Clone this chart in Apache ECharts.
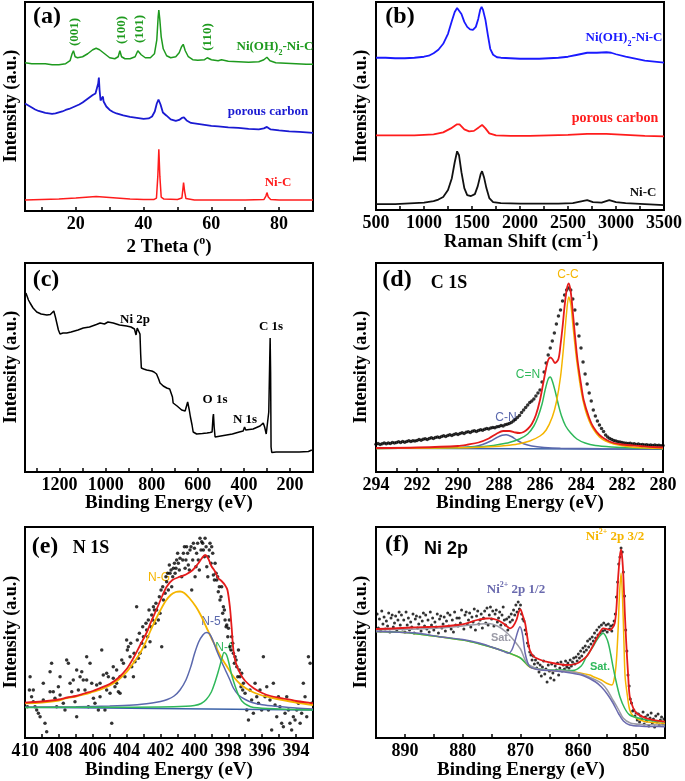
<!DOCTYPE html>
<html><head><meta charset="utf-8">
<script src="https://cdn.jsdelivr.net/npm/echarts@6/dist/echarts.min.js"></script>
<style>html,body{margin:0;padding:0;background:#fff}#c{width:685px;height:781px}</style>
</head><body><div id="c"></div>
<script>
// ---------- (a) XRD, 2-theta (deg) vs intensity (a.u.) ----------
const xrdNiOH = [[5,149],[7,148],[9,148],[11,148],[13,147],[15,147],[17,148],[18.3,151],[18.9,158],[19.3,161],[19.8,155],[20.5,154],[22,155],[23.5,158],[25,162],[26,163.5],[27,162],[28.5,158],[30,154],[31.5,153],[32.5,155],[33.0,161],[33.5,155],[34.5,153],[36,153],[37.5,155],[38.3,161],[38.7,163],[39.3,157],[40.5,154],[42,154],[43.2,158],[43.9,172],[44.3,195],[44.5,202],[44.8,192],[45.2,175],[45.8,163],[46.8,156],[48,154],[49.5,155],[50.5,159],[51.2,165],[51.7,167.5],[52.3,161],[53.2,155],[54.5,152],[56,151.5],[58,152],[58.8,154],[59.3,154.5],[60,152],[62,151],[63,152],[65,150.5],[68,150],[71,149.5],[74,150],[75.5,152],[76.4,154.5],[77.3,151],[79,149],[82,148.5],[85,148],[88,147.5],[90,147.5]];
const xrdCarbon = [[5,108],[6,106],[7,104],[8,102],[9,100.5],[10,99.5],[11,98.5],[12,98],[13,97.5],[14,98],[15,99],[16,100],[17,101.5],[18,102.5],[19,104],[20,105.5],[21,107],[22,109],[23,111.5],[24,114],[25,116.5],[25.8,118],[26.3,119],[26.6,128],[26.8,134],[27.0,122],[27.3,111],[27.7,109],[28.0,115],[28.2,110],[29,105],[30,101.5],[31,99.5],[32,98],[34,96],[36,94.5],[38,93.5],[40,92.5],[41.5,93],[42.5,95],[43.3,100],[43.9,108],[44.4,112],[45,107],[45.7,99],[46.7,96],[48,92],[49.5,90.5],[50.5,91.5],[51.3,93.5],[51.9,94],[52.7,91],[54,88.5],[56,87.5],[58,86.5],[60,85.5],[62,85],[65,84],[68,83.5],[71,82.5],[74,82],[75.5,83],[76.4,84.5],[77.5,82],[80,81],[83,80],[86,79.5],[88,79],[90,78.5]];
const xrdNiC = [[5,11],[10,11.5],[15,12],[20,13],[24,14],[26,14.5],[28,14],[32,13],[36,12],[40,11.5],[43,11.5],[43.8,13],[44.2,35],[44.5,62],[44.8,35],[45.2,14],[46,12],[50,11.5],[51.3,13],[51.6,22],[51.8,28.5],[52.1,20],[52.5,12.5],[55,11],[60,11],[65,11],[70,11],[75.5,11.5],[76.1,15],[76.4,18.5],[76.8,14],[77.5,11.5],[80,11],[85,11],[90,11]];

// ---------- (b) Raman ----------
const ramanNiOH = [[500,153],[600,153],[700,152.5],[800,152.5],[900,153],[1000,154],[1050,155],[1100,157.5],[1150,161],[1200,167],[1250,177],[1290,190],[1320,199],[1345,203],[1365,203],[1390,197],[1420,189],[1450,184],[1480,181.5],[1510,181],[1540,184],[1565,192],[1585,201],[1600,204],[1615,201],[1640,191],[1665,176],[1690,162],[1720,156],[1760,153.5],[1800,153],[1900,152.5],[2000,152],[2100,152],[2200,152],[2300,152.5],[2400,153],[2500,154],[2600,156],[2700,158],[2800,158],[2900,158.5],[2950,158],[3000,156.5],[3100,154],[3200,152],[3300,150],[3400,149],[3500,148]];
const ramanCarbon = [[500,75],[700,75],[900,75],[1000,75.5],[1100,76],[1200,78],[1280,82],[1340,86],[1370,86],[1420,81],[1470,79],[1520,79.5],[1570,83],[1605,85.5],[1640,82],[1680,77],[1750,75],[1900,74.5],[2100,74.5],[2300,75],[2500,75.5],[2700,76.5],[2900,76.5],[3100,75.5],[3300,74.5],[3500,74]];
const ramanNiC = [[500,6],[600,6],[700,6],[800,6.5],[900,7],[1000,7.5],[1100,9],[1150,10.5],[1200,13],[1250,20],[1290,32],[1320,48],[1345,59],[1365,55],[1390,38],[1420,22],[1450,15],[1490,14],[1530,16],[1560,24],[1590,36],[1605,39],[1625,33],[1650,22],[1680,12],[1720,8],[1800,7],[2000,6.5],[2200,6.5],[2400,6.5],[2550,7],[2650,9],[2700,10],[2760,8],[2850,7.5],[2930,10],[3000,8],[3100,7],[3300,6],[3500,5]];

// ---------- (c) XPS survey ----------
const survey = [[1346,179],[1335,172],[1328,169],[1315,164],[1299,160],[1280,158],[1255,157],[1240,157.5],[1233,159],[1225,161],[1218,155],[1212,149],[1205,142],[1198,138],[1185,139],[1169,139],[1150,140],[1120,142],[1097,144],[1070,145],[1040,147.5],[1024,149],[1005,148],[990,150],[967,149],[940,147],[909,146],[890,145],[875,143],[868,137],[863,144],[858,145],[855,145],[851,138],[848,118],[845,104],[835,103],[822,102],[800,101],[790,100],[779,98],[770,93],[764,89],[750,86],[735,84],[722,83],[714,82],[710,75],[707,69],[690,66],[670,62],[655,61],[649,60],[644,70],[641,72],[637,62],[632,55],[625,47],[620,40],[605,38],[580,38.5],[560,39],[547,39.5],[538,40],[534,55],[532,58],[529,45],[525,35],[500,36],[475,37],[450,38],[420,40],[403,41],[397,45],[392,42],[388,41],[360,43],[330,46],[316,49],[310,45],[303,38],[300,37],[292,60],[288,110],[286,134],[284,100],[282,25],[279,19.5],[260,20],[228,20],[200,20],[160,20],[120,20.5],[105,22]];

// ---------- (d) C 1s ----------
const c1sData = [[294.0,27.7],[293.9,28.5],[293.8,27.5],[293.7,28.3],[293.6,28.9],[293.5,28.2],[293.4,29.0],[293.3,28.6],[293.2,29.6],[293.1,29.0],[293.0,29.4],[292.9,30.2],[292.8,29.5],[292.7,30.4],[292.6,29.8],[292.5,30.6],[292.4,31.2],[292.3,30.5],[292.2,31.3],[292.1,30.9],[292.0,31.6],[291.9,32.4],[291.8,31.8],[291.7,32.7],[291.6,33.3],[291.5,32.6],[291.4,33.5],[291.3,34.2],[291.2,33.6],[291.1,34.6],[291.0,35.0],[290.9,34.4],[290.8,35.5],[290.7,36.2],[290.6,35.6],[290.5,36.6],[290.4,37.2],[290.3,36.5],[290.2,37.6],[290.1,38.2],[290.0,37.5],[289.9,38.6],[289.8,39.3],[289.7,38.6],[289.6,39.7],[289.5,40.3],[289.4,39.6],[289.3,40.8],[289.2,41.2],[289.1,40.5],[289.0,41.6],[288.9,42.3],[288.8,41.7],[288.7,42.8],[288.6,43.5],[288.5,42.9],[288.4,44.0],[288.3,44.6],[288.2,44.2],[288.1,45.3],[288.0,45.6],[287.9,46.4],[287.8,46.0],[287.7,47.2],[287.6,47.8],[287.5,48.5],[287.4,49.5],[287.3,51.0],[287.2,52.6],[287.1,54.5],[287.0,56.5],[286.9,59.5],[286.8,62.0],[286.7,64.5],[286.6,67.0],[286.5,69.5],[286.4,71.0],[286.3,73.0],[286.2,76.0],[286.1,79.0],[286.0,82.0],[285.9,90.0],[285.8,100.0],[285.7,109.0],[285.6,117.0],[285.5,124.0],[285.4,131.0],[285.3,139.0],[285.2,148.0],[285.1,156.0],[285.0,162.0],[284.9,171.0],[284.8,177.0],[284.7,182.0],[284.6,184.0],[284.5,182.0],[284.4,173.0],[284.3,162.0],[284.2,148.0],[284.1,136.0],[284.0,124.0],[283.9,110.0],[283.8,98.0],[283.7,88.0],[283.6,79.0],[283.5,71.0],[283.4,62.0],[283.3,56.0],[283.2,51.0],[283.1,47.0],[283.0,43.5],[282.9,40.5],[282.8,37.0],[282.7,35.0],[282.6,33.5],[282.5,32.6],[282.4,31.5],[282.3,31.0],[282.2,30.2],[282.1,29.9],[282.0,29.4],[281.9,29.0],[281.8,28.8],[281.7,28.4],[281.6,28.7],[281.5,28.1],[281.4,28.3],[281.3,27.6],[281.2,27.9],[281.1,27.2],[281.0,27.5],[280.9,27.0],[280.8,27.3],[280.7,26.8],[280.6,27.1],[280.5,26.6],[280.4,26.9],[280.3,26.4],[280.2,26.7],[280.1,26.3],[280.0,26.5]];
const c1sCC = [[294,23.5],[292,23.8],[290,24.2],[289,24.8],[288,25.8],[287.5,26.8],[287,28.3],[286.5,31],[286,36],[285.7,42],[285.4,55],[285.2,70],[285.0,95],[284.85,125],[284.7,160],[284.6,175],[284.5,168],[284.4,148],[284.3,128],[284.2,110],[284.0,82],[283.8,63],[283.6,51],[283.4,43],[283.1,35],[282.8,31],[282.4,28],[282,26.3],[281.5,25],[281,24.3],[280.5,23.8],[280,23.5]];
const c1sCeqN = [[294,23.5],[292,23.8],[290,24.3],[289,25.2],[288.5,26],[288,27.5],[287.5,29.5],[287,33],[286.6,38],[286.3,46],[286.1,55],[285.9,68],[285.75,82],[285.6,93],[285.5,95],[285.4,91],[285.25,80],[285.1,67],[284.95,56],[284.75,46],[284.5,39],[284.2,33],[283.8,29],[283.3,26.5],[282.5,25],[281.5,24],[280,23.3]];
const c1sCN = [[294,23.6],[292,23.7],[290,24.2],[289.2,25.5],[288.8,27.5],[288.4,31],[288.1,34.5],[287.85,36.8],[287.65,37.2],[287.4,35.5],[287.1,31.5],[286.8,28.3],[286.4,26],[285.8,24.6],[285,23.8],[283,23.2],[280,22.9]];
const c1sFit = [[294,24],[292,24.5],[290,26],[289.5,27.5],[289,29.5],[288.5,33.5],[288.1,38.5],[287.8,41],[287.5,41],[287.2,39.5],[287.0,39],[286.8,40],[286.6,43],[286.4,48],[286.2,57],[286.0,72],[285.85,88],[285.7,104],[285.6,112],[285.5,114.5],[285.4,113],[285.27,109],[285.1,113],[285.0,127],[284.9,145],[284.8,166],[284.7,182],[284.6,188.5],[284.5,180],[284.4,160],[284.3,138],[284.17,112],[284.0,88],[283.87,72],[283.6,54],[283.4,45],[283.1,37],[282.75,32],[282.4,29],[282,27.5],[281.1,26],[280.5,25],[280,24.5]];
const c1sBase = [[294,23.7],[280,22.7]];

// ---------- (e) N 1s ----------
const n1sData = [[409.86,31.3],[409.74,48],[409.70,61.3],[409.61,41.3],[409.51,36.3],[409.51,48],[409.41,31.3],[409.31,28],[409.21,24.7],[409.11,21.3],[408.92,38],[408.92,54.7],[408.82,14.7],[408.72,6.3],[408.52,46.3],[408.52,66.3],[408.43,74.7],[408.33,46.3],[408.23,39.7],[408.13,31.3],[408.03,51.3],[407.93,43],[407.93,61.3],[407.74,34.7],[407.64,28],[407.54,78],[407.44,74.7],[407.34,54.7],[407.24,46.3],[407.15,58],[407.05,36.3],[406.95,21.3],[406.95,68],[406.85,48],[406.75,61.3],[406.65,66.3],[406.56,58],[406.46,48],[406.36,81.3],[406.36,58],[406.26,31.3],[406.16,74.7],[406.06,54.7],[405.96,39.7],[405.87,34.7],[405.77,53],[405.67,28],[405.57,54.7],[405.57,41.3],[405.47,88],[405.38,63],[405.28,28],[405.18,64.7],[405.18,48],[405.08,61.3],[404.98,44.7],[404.88,14.7],[404.79,59.7],[404.79,71.3],[404.69,51.3],[404.59,54.7],[404.59,68],[404.49,46.3],[404.39,44.7],[404.39,61.3],[404.29,78],[404.19,74.7],[404.10,61.3],[404.00,98],[403.96,88],[403.90,91.3],[403.80,81.3],[403.76,94.7],[403.70,71.3],[403.60,61.3],[403.56,84.7],[403.51,76.3],[403.41,131.3],[403.37,98],[403.31,79.7],[403.25,104.7],[403.21,84.7],[403.11,94.7],[403.05,111.3],[403.01,101.3],[402.92,91.3],[402.86,114.7],[402.82,108],[402.76,101.3],[402.72,118],[402.68,128],[402.62,96.3],[402.58,111.3],[402.52,123],[402.46,118],[402.42,131.3],[402.36,128],[402.33,114.7],[402.27,134.7],[402.23,128],[402.13,118],[402.07,141.3],[402.03,124.7],[401.97,148],[401.93,91.3],[401.87,151.3],[401.83,138],[401.73,144.7],[401.68,161.3],[401.64,156.3],[401.58,164.7],[401.54,148],[401.48,173],[401.44,164.7],[401.38,168],[401.34,151.3],[401.28,161.3],[401.24,169.7],[401.18,174.7],[401.14,164.7],[401.09,169.7],[401.05,178],[400.99,184.7],[400.95,174.7],[400.89,168],[400.85,179.7],[400.75,161.3],[400.69,178],[400.65,184.7],[400.59,191.3],[400.55,169.7],[400.50,178],[400.46,191.3],[400.40,184.7],[400.36,173],[400.30,168],[400.26,188],[400.20,191.3],[400.16,148],[400.10,178],[400.06,194.7],[400.00,189.7],[399.96,161.3],[399.91,171.3],[399.87,184.7],[399.81,194.7],[399.77,178],[399.71,168],[399.67,199.7],[399.61,188],[399.57,196.3],[399.51,194.7],[399.47,188],[399.41,181.3],[399.37,199.7],[399.31,191.3],[399.27,171.3],[399.21,161.3],[399.18,181.3],[399.12,188],[399.08,194.7],[399.02,174.7],[398.98,191.3],[398.92,184.7],[398.88,163],[398.82,158],[398.78,174.7],[398.72,164.7],[398.68,158],[398.63,161.3],[398.59,146.3],[398.53,151.3],[398.49,138],[398.43,141.3],[398.39,151.3],[398.33,124.7],[398.29,131.3],[398.23,128],[398.19,118],[398.13,111.3],[398.09,113],[398.03,101.3],[397.99,109.7],[397.94,118],[397.90,91.3],[397.84,88],[397.80,101.3],[397.74,94.7],[397.70,84.7],[397.64,74.7],[397.60,81.3],[397.54,78],[397.50,71.3],[397.44,61.3],[397.40,88],[397.35,68],[397.31,61.3],[397.25,51.3],[397.21,64.7],[397.15,48],[397.11,54.7],[397.01,44.7],[396.91,28],[396.81,18],[396.72,48],[396.62,38],[396.52,24.7],[396.42,54.7],[396.32,41.3],[396.22,34.7],[396.13,48],[396.03,28],[395.93,81.3],[395.83,41.3],[395.73,51.3],[395.63,28],[395.54,38],[395.44,8],[395.34,54.7],[395.24,33],[395.14,21.3],[395.04,41.3],[394.95,31.3],[394.85,14.7],[394.75,11.3],[394.65,24.7],[394.55,41.3],[394.45,28],[394.36,14.7],[394.26,8],[394.16,21.3],[394.06,18],[393.96,28],[393.86,34.7],[393.76,14.7],[393.67,24.7],[393.57,54.7],[393.47,41.3],[393.37,21.3],[393.27,81.3],[393.17,74.7],[393.08,34.7]];
const n1sNG = [[410,34.7],[409,35.5],[408,37.5],[407.6,39.7],[407,41.5],[406.5,43.5],[406,46],[405.6,48],[405,52.5],[404.5,58],[404,66],[403.6,75],[403.2,85],[402.9,95],[402.6,107],[402.3,118],[402,128],[401.7,137],[401.4,143],[401.1,146],[400.85,146.5],[400.6,145],[400.3,140],[399.9,131],[399.6,122],[399.3,111],[399,100],[398.7,90],[398.4,80],[398.1,72],[397.7,61.5],[397.3,54],[396.9,49],[396.5,45.5],[396,42.5],[395.5,40.5],[394.8,38],[394,35.5],[393,33]];
const n1sN5 = [[410,30.7],[407,31.3],[405,32],[403.6,33],[402.5,35],[402,36.5],[401.6,38.5],[401.2,42],[400.85,48],[400.5,58],[400.2,72],[400.0,84],[399.75,96],[399.5,103],[399.3,105.5],[399.1,104],[398.9,97],[398.7,88],[398.5,80],[398.2,69],[397.9,58],[397.7,50],[397.4,43],[397.0,38.5],[396.6,35.5],[396,33.3],[395,31.5],[394,30],[393,29]];
const n1sN6 = [[410,30.6],[405,30.7],[402,31],[400.5,31.7],[400,32.5],[399.6,34.5],[399.3,38.5],[399.0,46],[398.8,55],[398.6,66],[398.4,78],[398.25,85.5],[398.1,83],[397.95,74],[397.8,63],[397.6,52],[397.4,43],[397.2,37],[396.9,33],[396.5,30.5],[395,29],[393,28]];
const n1sFit = [[410,35.3],[409,36.5],[408,38.5],[407.5,40.5],[407,42],[406.5,44.5],[406,47],[405.6,49.7],[405,54],[404.5,60],[404,69],[403.6,80],[403.2,93],[402.8,106],[402.6,114.7],[402.2,130],[401.9,142],[401.64,151.3],[401.3,158],[400.85,161.3],[400.5,163.5],[400.1,168],[399.8,174],[399.55,180],[399.37,183],[399.2,180],[399.0,172],[398.8,167],[398.6,160],[398.4,157],[398.2,153],[398.05,148],[397.9,130],[397.8,110],[397.7,88],[397.55,75],[397.3,64.7],[397.0,57],[396.5,49.7],[396,45],[395.5,42],[394.8,39.7],[394,37],[393,34.7]];
const n1sBase = [[410,30.7],[393,28]];

// ---------- (f) Ni 2p ----------
const ni2pData = [[894.8,124],[894.6,110],[894.4,119],[894.2,107],[894.0,127],[893.8,114],[893.6,121],[893.4,109],[893.2,117],[893.0,112],[892.8,125],[892.6,106],[892.4,120],[892.2,123],[892.0,111],[891.8,115],[891.6,122],[891.4,108],[891.2,118],[891.0,126],[890.8,113],[890.6,123],[890.4,109],[890.2,118],[890.0,106],[889.8,126],[889.6,113],[889.4,120],[889.2,108],[889.0,116],[888.8,111],[888.6,124],[888.4,105],[888.2,119],[888.0,122],[887.8,110],[887.6,114],[887.4,121],[887.2,107],[887.0,117],[886.8,125],[886.6,112],[886.4,123],[886.2,109],[886.0,118],[885.8,106],[885.6,126],[885.4,113],[885.2,120],[885.0,108],[884.8,116],[884.6,111],[884.4,124],[884.2,105],[884.0,119],[883.8,122],[883.6,110],[883.4,114],[883.2,121],[883.0,107],[882.8,117],[882.6,125],[882.4,112],[882.2,123],[882.0,109],[881.8,118],[881.6,106],[881.4,126],[881.2,113],[881.0,120],[880.8,112],[880.6,120],[880.4,115],[880.2,128],[879.8,109],[879.6,123],[879.4,126],[879.2,114],[879.0,118],[878.8,125],[878.6,111],[878.4,121],[878.2,116],[878.0,129],[877.8,108],[877.6,122],[877.4,127],[877.2,114],[877.0,118],[876.8,124],[876.6,110],[876.4,120],[876.2,127],[876.0,115],[875.8,130],[875.6,113],[875.4,123],[875.2,131],[875.0,119],[874.8,127],[874.6,112],[874.4,124],[874.2,128],[874.0,116],[873.8,120],[873.6,126],[873.4,113],[873.2,123],[873.0,131],[872.8,118],[872.6,113],[872.4,119],[872.2,108],[872.0,121],[871.8,116],[871.6,124],[871.4,118],[871.2,128],[871.0,123],[870.8,133],[870.6,126],[870.4,136],[870.2,129],[870.0,133],[869.8,124],[869.6,119],[869.4,117],[869.2,108],[869.0,104],[868.8,95],[868.6,92],[868.4,86],[868.2,83],[868.0,78],[867.8,82],[867.6,74],[867.4,78],[867.2,70],[867.0,75],[866.8,66],[866.6,73],[866.4,62],[866.2,71],[866.0,77],[865.8,64],[865.6,69],[865.4,56],[865.2,73],[865.0,67],[864.8,60],[864.6,74],[864.4,65],[864.2,58],[864.0,72],[863.8,68],[863.6,75],[863.4,63],[863.2,70],[863.0,76],[862.8,67],[862.6,73],[862.4,69],[862.2,77],[862.0,71],[861.8,75],[861.6,70],[861.4,78],[861.2,72],[861.0,76],[860.8,80],[860.6,74],[860.4,81],[860.2,77],[860.0,84],[859.8,80],[859.6,87],[859.4,82],[859.2,90],[859.0,86],[858.8,92],[858.6,88],[858.4,97],[858.2,91],[858.0,99],[857.8,94],[857.6,101],[857.4,97],[857.2,105],[857.0,100],[856.8,108],[856.6,103],[856.4,111],[856.2,105],[856.0,113],[855.8,107],[855.6,115],[855.4,108],[855.2,113],[855.0,106],[854.8,114],[854.6,109],[854.4,112],[854.2,107],[854.0,113],[853.8,117],[853.6,124],[853.4,141],[853.2,156],[853.0,174],[852.8,181],[852.6,190],[852.4,186],[852.2,166],[852.0,142],[851.8,108],[851.6,87],[851.4,63],[851.2,52],[851.0,39],[850.8,35],[850.6,27],[850.4,28],[850.2,22],[850.0,25],[849.8,18],[849.6,24],[849.4,16],[849.2,22],[849.0,19],[848.8,26],[848.6,14],[848.4,21],[848.2,17],[848.0,23],[847.8,12],[847.6,20],[847.4,25],[847.2,15],[847.0,19],[846.8,11],[846.6,22],[846.4,16],[846.2,24],[846.0,13],[845.8,18],[845.6,21],[845.4,14],[845.2,19]];
const ni2p12 = [[895,106.5],[892,106],[888,105],[884,101.3],[880,98.5],[877,94.7],[875,91],[873.5,88],[872.5,85.5],[872,85],[871.5,88],[871,96],[870.5,106],[870.1,111.3],[869.7,105],[869.2,85],[868.8,76],[868.4,71.3],[867.5,69],[866.6,68],[864,67],[861,64.7],[859,62],[857,56],[856,51],[855,44],[854,35],[853,24],[852.2,17],[851.1,13],[849,11.8],[847,11.5],[845,11.3]];
const ni2pSatA = [[895,108],[892,108.5],[888,109],[884,110],[880,112],[877,114],[875.5,114.5],[874,112],[872.5,106],[871.2,98],[870,89],[868.9,75],[867.5,70],[866.6,68.7],[864,67.5],[861,66.3],[859,63],[857,58],[856,54.7],[855,48],[854,38],[853,28],[852.2,19.7],[851,15],[849,13.5],[847,13.2],[845,13]];
const ni2p32 = [[895,106.5],[890,105.5],[885,102],[880,98],[877,94],[874,89],[872,85],[870,80],[868.4,71],[866,68],[861,66.3],[858,63],[857.4,61.3],[856,58],[855.1,54.7],[854.2,53],[853.7,62],[853.4,78],[853.1,110],[852.9,140],[852.6,164.7],[852.35,140],[852.1,95],[851.9,61.3],[851.5,42],[851.1,28],[850.5,22],[849.3,18],[848,16],[845,14.7]];
const ni2pSatB = [[895,106.5],[890,105.5],[885,102],[880,98],[877,94],[874,89],[872,85],[870,80],[868.4,71.5],[866,68.5],[863,68],[861,67.5],[859.5,72],[858.6,81.3],[857.5,91],[856.8,98],[856.2,102.5],[855.7,104.7],[855.2,101],[854.8,94.7],[854.4,84],[854,71.3],[853.4,55],[852.8,41.3],[852,30],[851.1,23],[849,19],[847,17],[845,16.3]];
const ni2pFit = [[895,109],[892,109.5],[889,110.5],[886,111],[884,111.3],[881,113],[879.3,114.7],[877.5,118],[876,119.5],[875.3,119.7],[874,118],[873,114.7],[872.2,111],[871.8,109.7],[871.3,111.5],[870.7,118],[870.3,126],[870,128.7],[869.7,124],[869.2,114.7],[868.8,100],[868.4,88],[867.8,82],[867.2,79.7],[866,77],[865.5,76.3],[864,74.5],[862,73],[860.5,74],[859.7,76.3],[858.5,82],[857.4,93],[856.5,103],[855.7,109.7],[855,109],[854.5,108],[854.1,110],[853.7,114.7],[853.4,130],[853.1,161.3],[852.8,182],[852.6,188.7],[852.4,180],[852.2,161.3],[851.95,125],[851.7,94.7],[851.4,65],[851.1,41.3],[850.5,30],[849.9,24.7],[848.2,19.7],[845,16.3]];

// ---------- tick values ----------
const ticksA = [10,20,30,40,50,60,70,80], labelsA = [20,40,60,80];
const ticksB = [750,1000,1250,1500,1750,2000,2250,2500,2750,3000,3250], labelsB = [500,1000,1500,2000,2500,3000,3500];
const ticksC = [200,300,400,500,600,700,800,900,1000,1100,1200,1300], labelsC = [200,400,600,800,1000,1200];
const ticksD = [281,282,283,284,285,286,287,288,289,290,291,292,293], labelsD = [280,282,284,286,288,290,292,294];
const ticksE = [394,395,396,397,398,399,400,401,402,403,404,405,406,407,408,409], labelsE = [394,396,398,400,402,404,406,408,410];
const ticksF = [850,855,860,865,870,875,880,885,890], labelsF = [850,860,870,880,890];

const SERIF = '"Liberation Serif","Times New Roman",serif';
const SANS = '"Liberation Sans",Arial,sans-serif';

const grids = [
  {left:25, top:2, width:288, height:209},
  {left:376, top:2, width:289, height:208},
  {left:25, top:263, width:288, height:209},
  {left:376, top:263, width:287, height:209},
  {left:25, top:527, width:288, height:211},
  {left:376, top:527, width:289, height:211}
].map(g => Object.assign(g, {show:true, borderColor:'#000', borderWidth:2, backgroundColor:'transparent'}));

function xAx(i, min, max, inverse, ticks, labels){
  return {type:'value', gridIndex:i, min:min, max:max, inverse:inverse,
    splitLine:{show:false}, axisLine:{show:false},
    axisTick:{show:true, inside:true, length:4, customValues:ticks, lineStyle:{color:'#000', width:1.5}},
    axisLabel:{customValues:labels, showMinLabel:true, showMaxLabel:true, color:'#000',
      fontFamily:SERIF, fontWeight:'bold', fontSize:18, margin:4, formatter:function(v){return String(v);}}};
}
function yAx(i, lo, hi){ return {type:'value', gridIndex:i, min:lo, max:hi, show:false}; }
function ln(i, data, color, w, smooth){
  return {type:'line', xAxisIndex:i, yAxisIndex:i, data:data, symbol:'none', showSymbol:false,
    lineStyle:{color:color, width:w}, smooth:smooth||false, silent:true, animation:false};
}
function sc(i, data, size){
  return {type:'scatter', xAxisIndex:i, yAxisIndex:i, data:data, symbolSize:size,
    itemStyle:{color:'#000'}, silent:true, animation:false};
}

function T(x, y, text, font, fill, rot){
  return {type:'text', x:x, y:y, rotation:rot||0, silent:true,
    style:{text:text, font:font, fill:fill, align:'center', verticalAlign:'middle', textAlign:'center', textVerticalAlign:'middle'}};
}
function R(x, y, text, size, fill, family, rot){
  const fam = family || SERIF;
  return {type:'text', x:x, y:y, rotation:rot||0, silent:true,
    style:{text:text, fill:fill, align:'center', verticalAlign:'middle', textAlign:'center', textVerticalAlign:'middle',
      rich:{
        m:{fontFamily:fam, fontWeight:'bold', fontSize:size, lineHeight:size+6, verticalAlign:'middle', fill:fill},
        s:{fontFamily:fam, fontWeight:'bold', fontSize:Math.round(size*0.65), lineHeight:Math.round(size*0.65), verticalAlign:'bottom', fill:fill},
        p:{fontFamily:fam, fontWeight:'bold', fontSize:Math.round(size*0.65), lineHeight:Math.round(size*0.65), verticalAlign:'top', fill:fill}
      }}};
}

const fPanel = 'bold 24px ' + SERIF;
const fTitle = 'bold 19px ' + SERIF;
const fY = 'bold 18px ' + SERIF;
const fAnn = 'bold 13px ' + SERIF;
const fSansS = '12px ' + SANS;
const GREEN_A = '#1e9a1e', BLUE_A = '#1a1ad2', RED_A = '#ff1c1c';
const ORANGE = '#f5b500', GREEN_F = '#2fb85a', BLUEGRAY = '#5a68ad', RED_F = '#e51b1b', BASE = '#3b62a8', GRAY = '#9a9aa6';

const graphics = [
  // (a)
  T(47, 17, '(a)', fPanel, '#000'),
  T(75, 32, '(001)', fAnn, GREEN_A, Math.PI/2),
  T(122, 30, '(100)', fAnn, GREEN_A, Math.PI/2),
  T(140, 29, '(101)', fAnn, GREEN_A, Math.PI/2),
  T(208, 37, '(110)', fAnn, GREEN_A, Math.PI/2),
  R(275, 47, '{m|Ni(OH)}{s|2}{m|-Ni-C}', 13, GREEN_A),
  T(268, 112, 'porous carbon', fAnn, BLUE_A),
  T(278, 183, 'Ni-C', fAnn, RED_A),
  R(169, 247, '{m|2 Theta (}{p|o}{m|)}', 19, '#000'),
  T(11, 106, 'Intensity (a.u.)', fY, '#000', Math.PI/2),
  // (b)
  T(400, 17, '(b)', fPanel, '#000'),
  R(624, 38, '{m|Ni(OH)}{s|2}{m|-Ni-C}', 13, '#1a1aff'),
  T(615, 118, 'porous carbon', 'bold 14px ' + SERIF, '#ff1c1c'),
  T(643, 193, 'Ni-C', fAnn, '#111'),
  R(521, 242, '{m|Raman Shift (cm}{p|-1}{m|)}', 19, '#000'),
  T(361, 106, 'Intensity (a.u.)', fY, '#000', Math.PI/2),
  // (c)
  T(46, 280, '(c)', fPanel, '#000'),
  T(135, 320, 'Ni 2p', fAnn, '#000'),
  T(271, 327, 'C 1s', fAnn, '#000'),
  T(215, 400, 'O 1s', fAnn, '#000'),
  T(245, 420, 'N 1s', fAnn, '#000'),
  T(169, 503, 'Binding Energy (eV)', fTitle, '#000'),
  T(11, 367, 'Intensity (a.u.)', fY, '#000', Math.PI/2),
  // (d)
  T(397, 280, '(d)', fPanel, '#000'),
  T(449, 283, 'C 1S', 'bold 18px ' + SERIF, '#000'),
  T(568, 275, 'C-C', fSansS, ORANGE),
  T(528, 375, 'C=N', fSansS, GREEN_F),
  T(506, 418, 'C-N', fSansS, BLUEGRAY),
  T(520, 503, 'Binding Energy (eV)', fTitle, '#000'),
  T(361, 367, 'Intensity (a.u.)', fY, '#000', Math.PI/2),
  // (e)
  T(45, 547, '(e)', fPanel, '#000'),
  T(91, 548, 'N 1S', 'bold 18px ' + SERIF, '#000'),
  T(159, 578, 'N-G', fSansS, ORANGE),
  T(211, 622, 'N-5', fSansS, BLUEGRAY),
  T(225, 648, 'N-6', fSansS, GREEN_F),
  T(169, 770, 'Binding Energy (eV)', fTitle, '#000'),
  T(11, 632, 'Intensity (a.u.)', fY, '#000', Math.PI/2),
  // (f)
  T(397, 545, '(f)', fPanel, '#000'),
  T(446, 549, 'Ni 2p', 'bold 18px ' + SANS, '#000'),
  R(615, 537, '{m|Ni}{p|2+}{m| 2p 3/2}', 13, ORANGE),
  R(516, 590, '{m|Ni}{p|2+}{m| 2p 1/2}', 13, '#6a6aae'),
  T(501, 638, 'Sat.', 'bold 11px ' + SANS, GRAY),
  T(600, 667, 'Sat.', 'bold 11px ' + SANS, GREEN_F),
  T(521, 770, 'Binding Energy (eV)', fTitle, '#000'),
  T(361, 632, 'Intensity (a.u.)', fY, '#000', Math.PI/2)
];

const option = {
  animation:false,
  backgroundColor:'#fff',
  grid: grids,
  xAxis: [
    xAx(0, 5, 90, false, ticksA, labelsA),
    xAx(1, 500, 3500, false, ticksB, labelsB),
    xAx(2, 100, 1350, true, ticksC, labelsC),
    xAx(3, 280, 294, true, ticksD, labelsD),
    xAx(4, 393, 410, true, ticksE, labelsE),
    xAx(5, 845, 895, true, ticksF, labelsF)
  ],
  yAxis: [yAx(0,0,210), yAx(1,0,209), yAx(2,0,209), yAx(3,0,209), yAx(4,0,211), yAx(5,0,211)],
  series: [
    ln(0, xrdNiOH, GREEN_A, 1.5), ln(0, xrdCarbon, BLUE_A, 1.8), ln(0, xrdNiC, RED_A, 1.5),
    ln(1, ramanNiOH, '#1a1aff', 1.8), ln(1, ramanCarbon, '#ff1c1c', 1.8), ln(1, ramanNiC, '#111', 1.8),
    ln(2, survey, '#000', 1.5),
    sc(3, c1sData, 3.5),
    ln(3, c1sBase, BASE, 1.5), ln(3, c1sCN, BLUEGRAY, 1.5, 0.3), ln(3, c1sCeqN, GREEN_F, 1.5, 0.3),
    ln(3, c1sCC, ORANGE, 1.5, 0.3), ln(3, c1sFit, RED_F, 1.8, 0.3),
    sc(4, n1sData, 3.5),
    ln(4, n1sBase, BASE, 1.5), ln(4, n1sNG, ORANGE, 1.8, 0.3), ln(4, n1sN5, BLUEGRAY, 1.5, 0.3),
    ln(4, n1sN6, GREEN_F, 1.5, 0.3), ln(4, n1sFit, RED_F, 1.8, 0.3),
    sc(5, ni2pData, 3),
    ln(5, ni2p32, ORANGE, 1.5, 0.3), ln(5, ni2pSatB, GREEN_F, 1.5, 0.3),
    ln(5, ni2pSatA, GRAY, 1.5, 0.3), ln(5, ni2p12, '#6a6aae', 1.5, 0.3),
    ln(5, ni2pFit, RED_F, 1.8, 0.3)
  ],
  graphic: graphics
};
const chart = echarts.init(document.getElementById('c'), null, {renderer:'canvas'});
chart.setOption(option);
</script>
</body></html>
